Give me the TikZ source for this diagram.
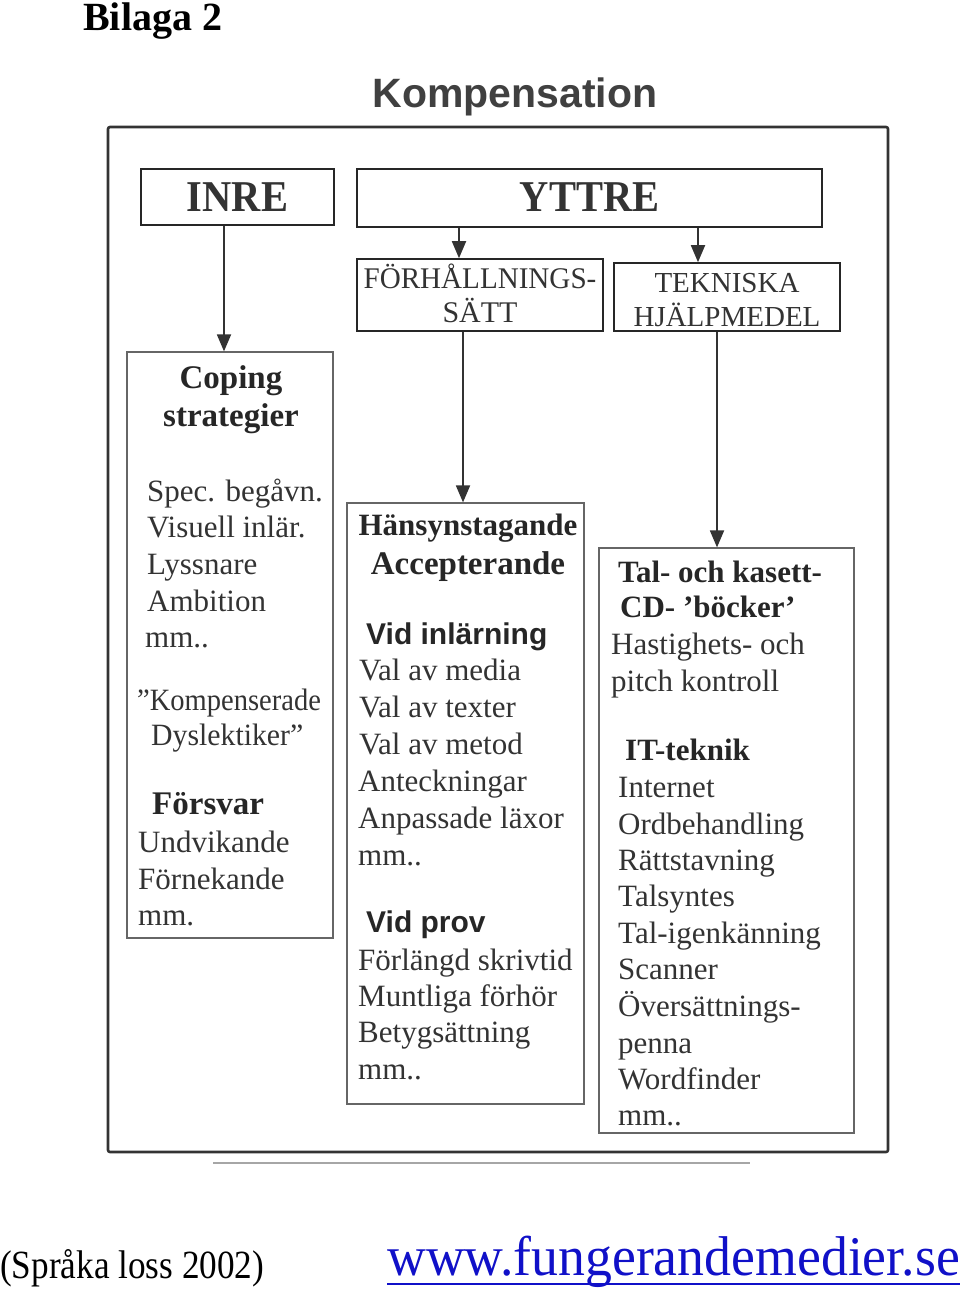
\documentclass[tikz,border=0pt]{standalone}
\usepackage{fontspec}
\setmainfont{Liberation Serif}
\setsansfont{Liberation Sans}
\usetikzlibrary{arrows.meta}
\definecolor{ink}{HTML}{333333}
\definecolor{boxline}{HTML}{666666}
\definecolor{urlblue}{HTML}{1010C8}
\newcommand\fsz[1]{\fontsize{#1}{#1}\selectfont}
\tikzset{
  topbox/.style={draw=black!85, line width=2pt, inner sep=0pt},
  lowbox/.style={draw=boxline, line width=1.2pt, inner sep=0pt},
  arr/.style={draw=ink, line width=1.8pt, -{Triangle[length=17pt,width=14pt]}},
  ln/.style={anchor=base west, inner sep=0pt, text=ink, font=\fsz{31}},
  lnc/.style={anchor=base, inner sep=0pt, text=ink},
  hd/.style={anchor=base west, inner sep=0pt, text=black!85, font=\fsz{33}\bfseries},
  hdc/.style={anchor=base, inner sep=0pt, text=black!85, font=\fsz{33}\bfseries},
  sh/.style={anchor=base west, inner sep=0pt, text=black!85, font=\fsz{30}\sffamily\bfseries},
}
\begin{document}
\begin{tikzpicture}[x=1pt,y=-1pt]
\useasboundingbox (0,0) rectangle (960,1295);

% titles
\node[anchor=base west, inner sep=0pt, font=\fsz{40}\bfseries] (bilaga) at (83,31) {Bilaga 2};
\node[anchor=base, inner sep=0pt, text=black!75, font=\fsz{41}\sffamily\bfseries] (komp) at (515,108) {Kompensation};

% outer frame
\draw[draw=black!80, line width=2.6pt, rounded corners=2pt] (108,127) rectangle (888,1152);
\draw[draw=black!35, line width=1.6pt] (213,1163) -- (750,1163);

% top boxes
\node[topbox, minimum width=193pt, minimum height=56pt] (inre) at (237.5,197) {};
\node[topbox, minimum width=465pt, minimum height=58pt] (yttre) at (589.5,198) {};
\node[lnc, font=\fsz{44}\bfseries, text=black!80] (inret) at (237.5,211) {\scalebox{0.92}[1]{INRE}};
\node[lnc, font=\fsz{44}\bfseries, text=black!80] (yttret) at (589.5,211) {\scalebox{0.92}[1]{YTTRE}};

% second-level boxes
\node[topbox, line width=1.6pt, minimum width=246pt, minimum height=72pt] (forh) at (480,295) {};
\node[topbox, line width=1.6pt, minimum width=226pt, minimum height=68pt] (tek) at (727,297) {};
\node[lnc, font=\fsz{30}] (forh1) at (480,288) {\scalebox{0.97}[1]{FÖRHÅLLNINGS-}};
\node[lnc, font=\fsz{30}] (forh2) at (480,322) {SÄTT};
\node[lnc, font=\fsz{29}] (tek1) at (727,292) {TEKNISKA};
\node[lnc, font=\fsz{29}] (tek2) at (727,326) {HJÄLPMEDEL};

% lower boxes
\node[lowbox, minimum width=206pt, minimum height=586pt] (coping) at (230,645) {};
\node[lowbox, minimum width=237pt, minimum height=601pt] (hans) at (465.5,803.5) {};
\node[lowbox, minimum width=255pt, minimum height=585pt] (tal) at (726.5,840.5) {};

% arrows
\draw[arr] ([xshift=-13.5pt]inre.south) -- ([xshift=-13.5pt]inre.south |- coping.north);
\draw[arr] ([xshift=-130.5pt]yttre.south) -- ([xshift=-130.5pt]yttre.south |- forh.north);
\draw[arr] ([xshift=108.5pt]yttre.south) -- ([xshift=108.5pt]yttre.south |- tek.north);
\draw[arr] ([xshift=-17pt]forh.south) -- ([xshift=-17pt]forh.south |- hans.north);
\draw[arr] ([xshift=-10pt]tek.south) -- ([xshift=-10pt]tek.south |- tal.north);

% Coping box text
\node[hdc] (c1) at (231,388) {Coping};
\node[hdc] (c2) at (231,426) {strategier};
\node[ln] (c3) at (147,501) {Spec. begåvn.};
\node[ln] (c4) at (147,537) {Visuell inlär.};
\node[ln] (c5) at (147,574) {Lyssnare};
\node[ln] (c6) at (147,611) {Ambition};
\node[ln] (c7) at (145,647) {mm..};
\node[ln] (c8) at (137,710) {\scalebox{0.92}[1]{”Kompenserade}};
\node[ln] (c9) at (151,745) {\scalebox{0.96}[1]{Dyslektiker”}};
\node[hd] (c10) at (152,814) {Försvar};
\node[ln] (c11) at (138,852) {Undvikande};
\node[ln] (c12) at (138,889) {Förnekande};
\node[ln] (c13) at (138,925) {mm.};

% Hänsyn box text
\node[hdc, font=\fsz{31}\bfseries] (h1) at (468,535) {Hänsynstagande};
\node[hdc] (h2) at (468,574) {Accepterande};
\node[sh] (h3) at (366,644) {Vid inlärning};
\node[ln] (h4) at (359,680) {Val av media};
\node[ln] (h5) at (359,717) {Val av texter};
\node[ln] (h6) at (359,754) {Val av metod};
\node[ln] (h7) at (358,791) {Anteckningar};
\node[ln] (h8) at (358,828) {Anpassade läxor};
\node[ln] (h9) at (358,865) {mm..};
\node[sh] (h10) at (366,932) {Vid prov};
\node[ln] (h11) at (358,970) {Förlängd skrivtid};
\node[ln] (h12) at (358,1006) {Muntliga förhör};
\node[ln] (h13) at (358,1042) {Betygsättning};
\node[ln] (h14) at (358,1079) {mm..};

% Tal box text
\node[hd, font=\fsz{31}\bfseries] (t1) at (618,582) {Tal- och kasett-};
\node[hd, font=\fsz{31}\bfseries] (t2) at (620,617) {CD- ’böcker’};
\node[ln] (t3) at (611,654) {Hastighets- och};
\node[ln] (t4) at (611,691) {pitch kontroll};
\node[hd, font=\fsz{31}\bfseries] (t5) at (625,760) {IT-teknik};
\node[ln] (t6) at (618,797) {Internet};
\node[ln] (t7) at (618,834) {Ordbehandling};
\node[ln] (t8) at (618,870) {Rättstavning};
\node[ln] (t9) at (618,906) {Talsyntes};
\node[ln] (t10) at (618,943) {Tal-igenkänning};
\node[ln] (t11) at (618,979) {Scanner};
\node[ln] (t12) at (618,1016) {Översättnings-};
\node[ln] (t13) at (618,1053) {penna};
\node[ln] (t14) at (618,1089) {Wordfinder};
\node[ln] (t15) at (618,1125) {mm..};

% footer
\node[anchor=base west, inner sep=0pt, font=\fsz{40}] (src) at (0,1278) {\scalebox{0.88}[1]{(Språka loss 2002)}};
\node[anchor=base west, inner sep=0pt, text=urlblue, font=\fsz{56}] (url) at (387,1275) {\scalebox{0.96}[1]{www.fungerandemedier.se}};
\draw[draw=urlblue, line width=2.2pt] ([yshift=-9pt]url.base west) -- ([yshift=-9pt]url.base east);
\end{tikzpicture}
\end{document}
